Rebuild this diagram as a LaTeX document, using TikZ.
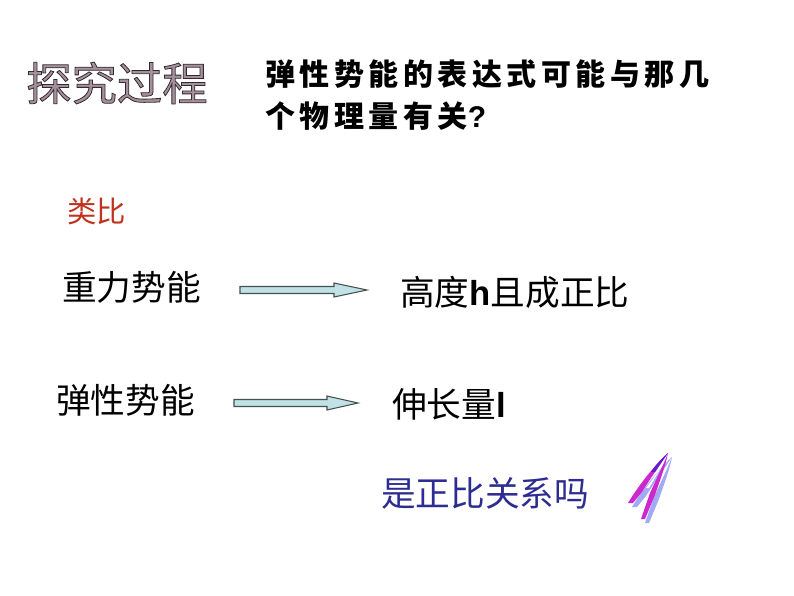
\documentclass[tikz,border=0pt]{standalone}
\usepackage{fontspec}
\usetikzlibrary{calc}
\setmainfont{Noto Sans CJK SC}
\newfontfamily\lat{Liberation Sans}
\newfontfamily\qfont{Noto Sans CJK SC}[LetterSpace=15]
\definecolor{arrowfill}{RGB}{192,226,230}
\definecolor{arrowline}{RGB}{70,80,80}
\definecolor{redbrown}{RGB}{190,50,30}
\definecolor{navy}{RGB}{45,45,145}
\definecolor{titlegray}{RGB}{165,145,155}
\definecolor{qmag}{RGB}{205,40,205}
\definecolor{qpur}{RGB}{95,30,205}
\definecolor{qshadow}{RGB}{160,170,245}
\tikzset{
  txt/.style={anchor=west,inner sep=0pt,font=\fontsize{26pt}{30pt}\selectfont},
  qtxt/.style={anchor=west,inner sep=0pt,font=\qfont\bfseries\fontsize{22.5pt}{28pt}\selectfont},
  fatarrow/.style={fill=arrowfill,draw=arrowline,line width=0.8pt,line join=miter},
}
\begin{document}
\begin{tikzpicture}[x=0.75pt,y=-0.75pt]
\useasboundingbox[fill=white] (0,0) rectangle (794,596);
% title
\node[anchor=west,inner sep=0pt,text=titlegray,font=\fontsize{34pt}{36pt}\selectfont] (title) at (26,83)
  {\special{pdf:literal direct 2 Tr 0.6 w 0.2 0.16 0.18 RG}探究过程\special{pdf:literal direct 0 Tr}};
% question
\node[qtxt] (q1) at (265,74) {弹性势能的表达式可能与那几};
\node[qtxt] (q2) at (265,116) {个物理量有关{\lat ?}};
% analogy
\node[txt,text=redbrown,font=\fontsize{22pt}{26pt}\selectfont] (lb) at (67,211) {类比};
\node[txt] (g) at (62,287) {重力势能};
\node[txt] (e) at (56,400) {弹性势能};
\node[txt] (h) at (400,292) {高度{\lat\bfseries h}且成正比};
\node[txt] (l) at (392,404) {伸长量{\lat\bfseries l}};
\node[txt,text=navy] (ask) at (381,493) {是正比关系吗};
% arrows
\coordinate (a1s) at (240,290);
\coordinate (a1t) at (367,290);
\coordinate (a2s) at (234,403);
\coordinate (a2t) at (358,403);
\draw[fatarrow] ($(a1s)+(0,-3.5)$) -- ($(a1t)+(-33,-3.5)$) -- ($(a1t)+(-33,-7)$) -- (a1t)
  -- ($(a1t)+(-33,7)$) -- ($(a1t)+(-33,3.5)$) -- ($(a1s)+(0,3.5)$) -- cycle;
\draw[fatarrow] ($(a2s)+(0,-3.5)$) -- ($(a2t)+(-31,-3.5)$) -- ($(a2t)+(-31,-7)$) -- (a2t)
  -- ($(a2t)+(-31,7)$) -- ($(a2t)+(-31,3.5)$) -- ($(a2s)+(0,3.5)$) -- cycle;
% stylised question mark
\begin{scope}[shift={(4,4)},fill=qshadow,draw=none]
\fill (668,453) .. controls (650,470) and (640,485) .. (633,495) -- (628,503) -- (633,503) -- (642,492) .. controls (652,476) and (660,465) .. cycle;
\fill (668,453) .. controls (662,468) and (655,482) .. (650,493) -- (641,519) -- (645,519) -- (655,495) .. controls (660,480) and (665,468) .. cycle;
\end{scope}
\fill[qmag] (668,453) .. controls (650,470) and (640,485) .. (633,495) -- (628,503) -- (633,503) -- (642,492) .. controls (652,476) and (660,465) .. cycle;
\fill[qmag] (668,453) .. controls (662,468) and (655,482) .. (650,493) -- (641,519) -- (645,519) -- (655,495) .. controls (660,480) and (665,468) .. cycle;
\fill[qpur] (668,453) .. controls (660,460) and (655,466) .. (651,472) -- (655,472) .. controls (659,466) and (663,460) .. cycle;
\fill[white] (666,458) .. controls (660,470) and (652,480) .. (646,488) -- (649,488) .. controls (655,478) and (661,468) .. cycle;
\end{tikzpicture}
\end{document}
